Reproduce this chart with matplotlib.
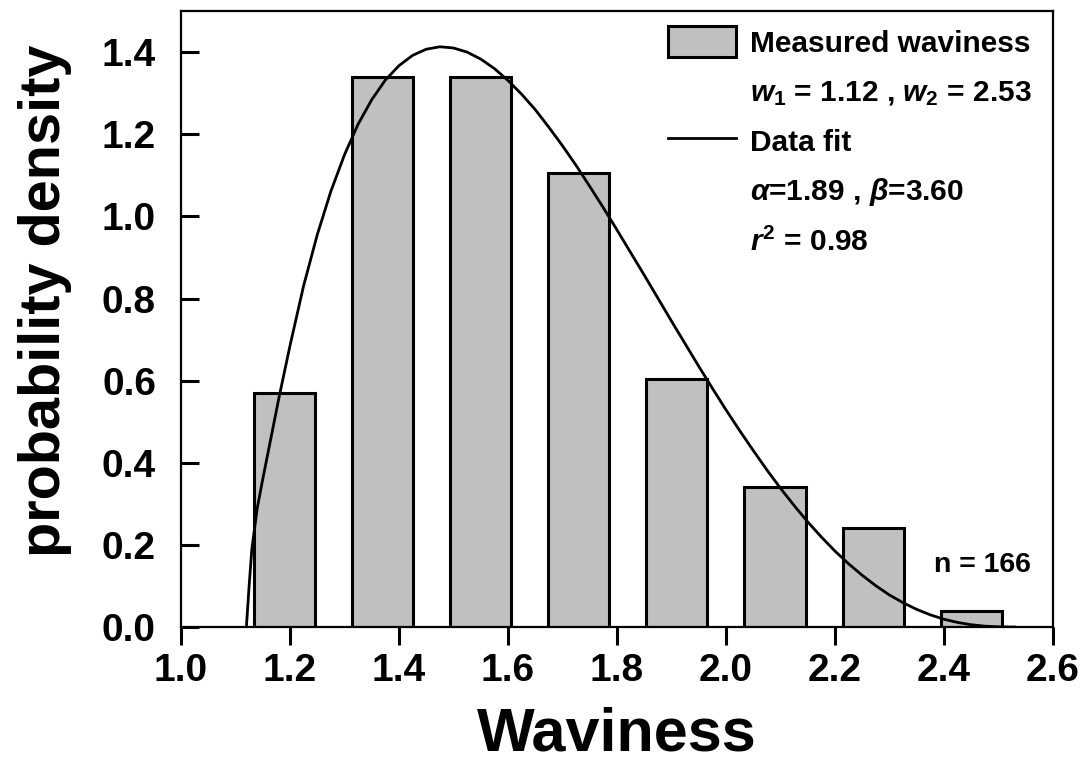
import matplotlib
matplotlib.use('Agg')
import matplotlib.pyplot as plt
from matplotlib.patches import Patch
from matplotlib.lines import Line2D

plt.rcParams['font.family'] = 'Liberation Sans'
plt.rcParams['font.weight'] = 'bold'
plt.rcParams['mathtext.fontset'] = 'custom'
plt.rcParams['mathtext.rm'] = 'Liberation Sans:bold'
plt.rcParams['mathtext.it'] = 'Liberation Sans:italic:bold'
plt.rcParams['mathtext.bf'] = 'Liberation Sans:bold'

# histogram bars (bin centres and probability density)
bin_centers = [1.19, 1.37, 1.55, 1.73, 1.91, 2.09, 2.27, 2.45]
density = [0.57, 1.34, 1.34, 1.105, 0.605, 0.34, 0.24, 0.04]
bar_width = 0.112

# fitted curve
fit_x = [1.12, 1.125, 1.13, 1.14, 1.15, 1.165, 1.18, 1.2, 1.225, 1.25, 1.275,
         1.3, 1.325, 1.35, 1.375, 1.4, 1.425, 1.45, 1.475, 1.5, 1.525, 1.55,
         1.575, 1.6, 1.625, 1.65, 1.675, 1.7, 1.725, 1.75, 1.775, 1.8, 1.825,
         1.85, 1.875, 1.9, 1.925, 1.95, 1.975, 2.0, 2.025, 2.05, 2.075, 2.1,
         2.125, 2.15, 2.175, 2.2, 2.225, 2.25, 2.275, 2.3, 2.325, 2.35, 2.375,
         2.4, 2.425, 2.45, 2.475, 2.5, 2.53]
fit_y = [0.0, 0.1, 0.19, 0.29, 0.36, 0.46, 0.56, 0.685, 0.831, 0.955, 1.061,
         1.15, 1.2245, 1.284, 1.332, 1.367, 1.392, 1.407, 1.413, 1.41, 1.40, 1.383,
         1.36, 1.331, 1.2975, 1.26, 1.217, 1.172, 1.124, 1.073, 1.021, 0.967, 0.912,
         0.857, 0.801, 0.745, 0.69, 0.635, 0.5815, 0.529, 0.4786, 0.43, 0.3827, 0.338,
         0.296, 0.256, 0.2193, 0.185, 0.154, 0.126, 0.1006, 0.078, 0.0592, 0.043, 0.0297,
         0.019, 0.0112, 0.0056, 0.0021, 0.0005, 0.0]

xticks = [1.0, 1.2, 1.4, 1.6, 1.8, 2.0, 2.2, 2.4, 2.6]
yticks = [0.0, 0.2, 0.4, 0.6, 0.8, 1.0, 1.2, 1.4]

fig = plt.figure(figsize=(10.89, 7.77), dpi=100)
ax = fig.add_axes([0.1662, 0.193, 0.8007, 0.7928])

ax.bar(bin_centers, density, width=bar_width, color='#c0c0c0',
       edgecolor='black', linewidth=2.2, zorder=2)
ax.plot(fit_x, fit_y, color='black', linewidth=2.0, zorder=3)

ax.set_xlim(1.0, 2.6)
ax.set_ylim(0, 1.5)
ax.set_xticks(xticks)
ax.set_yticks(yticks)
ax.set_xticklabels(['%.1f' % v for v in xticks])
ax.set_yticklabels(['%.1f' % v for v in yticks])

for s in ax.spines.values():
    s.set_linewidth(1.6)

ax.tick_params(axis='x', direction='out', length=13, width=2.2, labelsize=28, pad=6)
ax.tick_params(axis='y', direction='in', length=13, width=2.2, labelsize=28, pad=18)

ax.set_xlabel('Waviness', fontsize=44, fontweight='bold', labelpad=12)
ax.set_ylabel('probability density', fontsize=41.5, fontweight='bold')
ax.yaxis.set_label_coords(-0.125, 0.53)

handles = [Patch(facecolor='#c0c0c0', edgecolor='black', linewidth=2.2),
           Line2D([], [], linestyle='none'),
           Line2D([], [], color='black', linewidth=2.0),
           Line2D([], [], linestyle='none'),
           Line2D([], [], linestyle='none')]
labels = ['Measured waviness',
          r'$w_{\mathit{1}}$ = 1.12 , $w_{\mathit{2}}$ = 2.53',
          'Data fit',
          r'$\alpha$=1.89 , $\beta$=3.60',
          r'$r^{\mathit{2}}$ = 0.98']
ax.legend(handles, labels, loc='upper left', bbox_to_anchor=(0.558, 0.976),
          frameon=False, fontsize=21.5, handlelength=2.3, handleheight=1.25,
          handletextpad=0.45, labelspacing=0.58, borderpad=0, borderaxespad=0)

ax.text(2.47, 0.15, 'n = 166', fontsize=20.5, ha='center', va='center')

fig.savefig('out.png', dpi=100)
